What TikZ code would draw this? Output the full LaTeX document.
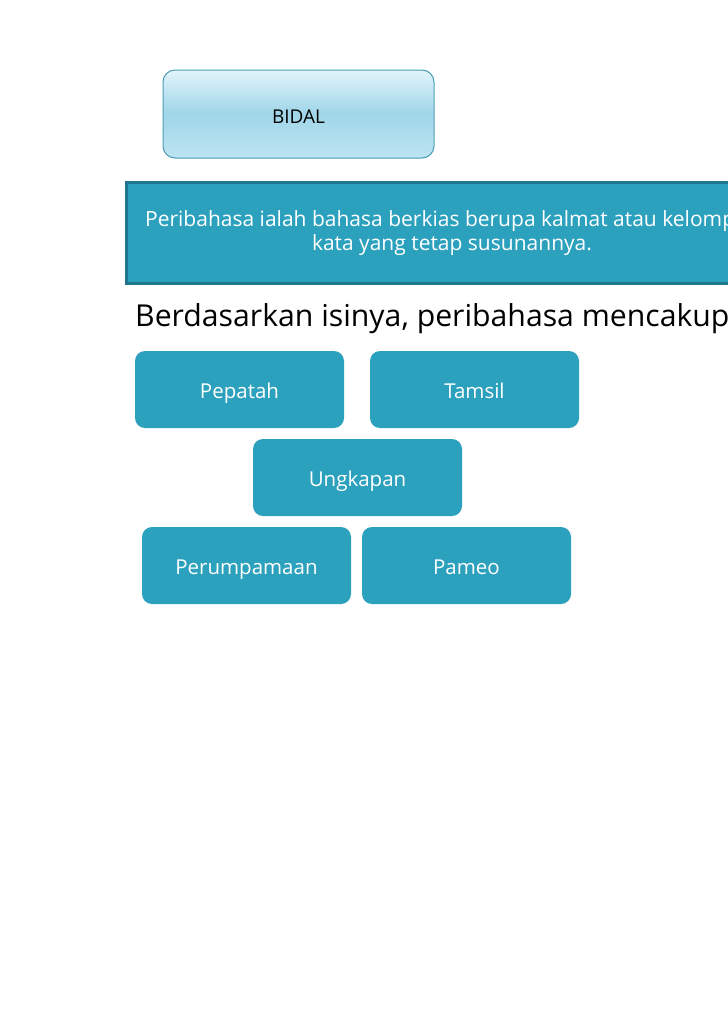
\documentclass[tikz,border=0pt]{standalone}
\usepackage{fontspec}
\setmainfont{Open Sans}
\definecolor{teal1}{HTML}{2CA1BD}
\definecolor{tealdark}{HTML}{1F7890}
\definecolor{bidaltop}{HTML}{E3F4FB}
\definecolor{bidalmid}{HTML}{A0D6E9}
\definecolor{bidalbot}{HTML}{BDE4F1}
\definecolor{bidalborder}{HTML}{4A9DB5}
\tikzset{
  px/.style={x=1pt,y=-1pt},
  itembox/.style={fill=teal1, draw=none, rounded corners=10pt, minimum width=209pt, minimum height=77pt, text=white, font=\fontsize{20.5}{24}\selectfont, inner sep=0pt, text height=17pt, text depth=0pt},
  defbox/.style={fill=teal1, draw=tealdark, line width=3pt, minimum width=652pt, minimum height=101pt, text=white, align=center, font=\fontsize{21}{24}\selectfont, inner sep=0pt},
  bidalbox/.style={draw=bidalborder, line width=1pt, rounded corners=12pt, minimum width=271pt, minimum height=88pt, inner sep=0pt, font=\fontsize{19}{22}\selectfont, text=black, text height=18pt, text depth=0pt},
  headline/.style={anchor=base west, inner sep=0pt, font=\fontsize{30.2}{34}\selectfont, text=black}
}
\begin{document}
\begin{tikzpicture}[px]
\useasboundingbox (0,0) rectangle (728,1031);
\fill[white] (0,0) rectangle (728,1031);
\begin{scope}
\clip (0,0) rectangle (728,1031);
% BIDAL box with gradient
\begin{scope}
\clip[rounded corners=12pt] (163,70) rectangle (434,158);
\shade[top color=bidaltop, bottom color=bidalmid] (163,70) rectangle (434,113);
\shade[top color=bidalmid, bottom color=bidalbot] (163,113) rectangle (434,158);
\end{scope}
\node[bidalbox] (bidal) at (298.5,114) {BIDAL};
% definition box
\node[defbox] (def) at (452,233) {Peribahasa ialah bahasa berkias berupa kalmat atau kelompok\\kata yang tetap susunannya.};
% headline
\node[headline] (head) at (135,326) {Berdasarkan isinya, peribahasa mencakup};
% items
\node[itembox] (pepatah) at (239.5,389.5) {Pepatah};
\node[itembox] (tamsil) at (474.5,389.5) {Tamsil};
\node[itembox] (ungkapan) at (357.5,477.5) {Ungkapan};
\node[itembox] (perumpamaan) at (246.5,565.5) {Perumpamaan};
\node[itembox] (pameo) at (466.5,565.5) {Pameo};
\end{scope}
\end{tikzpicture}
\end{document}
